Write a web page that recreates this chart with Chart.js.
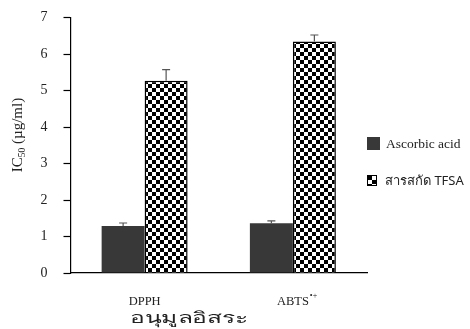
<!DOCTYPE html>
<html>
<head>
<meta charset="utf-8">
<script src="https://cdn.jsdelivr.net/npm/chart.js@4"></script>
<style>
  html, body { margin: 0; padding: 0; background: #fff; }
  #wrap { width: 470px; height: 329px; }
</style>
</head>
<body>
<div id="wrap"><canvas id="ic50Chart"></canvas></div>
<script>
// data
const radicals = ["DPPH", "ABTS"];
const seriesNames = ["Ascorbic acid", "สารสกัด TFSA"];
const ascorbicValues = [1.29, 1.36];
const ascorbicErrors = [0.08, 0.07];
const tfsaValues = [5.27, 6.34];
const tfsaErrors = [0.3, 0.18];
const yTicks = [0, 1, 2, 3, 4, 5, 6, 7];

const serif = "'Liberation Serif', 'DejaVu Serif', serif";

// checkerboard fill for the extract bars
function checker() {
  const c = document.createElement("canvas");
  c.width = 8;
  c.height = 8;
  const g = c.getContext("2d");
  g.fillStyle = "#fff";
  g.fillRect(0, 0, 8, 8);
  g.fillStyle = "#000";
  g.fillRect(0, 0, 4, 4);
  g.fillRect(4, 4, 4, 4);
  return g.createPattern(c, "repeat");
}
const ctx = document.getElementById("ic50Chart").getContext("2d");
const checkerFill = checker();

// draw text squeezed/stretched to a given width
function fitText(g, text, cx, cy, width) {
  const w = g.measureText(text).width;
  g.save();
  g.translate(cx, cy);
  g.scale(width / w, 1);
  g.textAlign = "center";
  g.fillText(text, 0, 0);
  g.restore();
}

// error bars, axis titles, legend and x labels
const extras = {
  id: "extras",
  afterDatasetsDraw(chart) {
    const g = chart.ctx;
    const y = chart.scales.y;
    const errs = [ascorbicErrors, tfsaErrors];
    const vals = [ascorbicValues, tfsaValues];
    g.save();
    g.lineWidth = 1.2;
    g.strokeStyle = "#555";
    [0, 1].forEach((d) => {
      chart.getDatasetMeta(d).data.forEach((bar, i) => {
        const top = y.getPixelForValue(vals[d][i]);
        const hi = y.getPixelForValue(vals[d][i] + errs[d][i]);
        g.beginPath();
        g.moveTo(bar.x, top);
        g.lineTo(bar.x, hi);
        g.moveTo(bar.x - 4, hi);
        g.lineTo(bar.x + 4, hi);
        g.stroke();
      });
    });
    g.restore();
  },
  afterDraw(chart) {
    const g = chart.ctx;
    const x = chart.scales.x;
    g.save();
    g.fillStyle = "#222";
    g.textBaseline = "middle";

    // category labels
    g.font = "12.5px " + serif;
    g.textAlign = "center";
    g.fillText("DPPH", x.getPixelForValue(0), 302);
    const ax = x.getPixelForValue(1);
    g.fillText("ABTS", ax, 302);
    const w = g.measureText("ABTS").width;
    g.font = "8px " + serif;
    g.textAlign = "left";
    g.fillText("•+", ax + w / 2 + 1, 296);

    // x title
    g.font = "15px 'Noto Sans', 'DejaVu Sans', sans-serif";
    fitText(g, "อนุมูลอิสระ", 189, 319, 118);

    // y title
    g.translate(18, 135);
    g.rotate(-Math.PI / 2);
    g.textAlign = "left";
    const t1 = "IC", t2 = "50", t3 = " (µg/ml)";
    g.font = "15px " + serif;
    const w1 = g.measureText(t1).width;
    const w3 = g.measureText(t3).width;
    g.font = "9.5px " + serif;
    const w2 = g.measureText(t2).width;
    let px = -(w1 + w2 + w3) / 2;
    g.font = "15px " + serif;
    g.fillText(t1, px, 0);
    g.font = "9.5px " + serif;
    g.fillText(t2, px + w1, 4);
    g.font = "15px " + serif;
    g.fillText(t3, px + w1 + w2, 0);
    g.restore();

    // legend
    g.save();
    g.fillStyle = "#383838";
    g.fillRect(367, 137, 13, 13);
    g.fillStyle = checkerFill;
    g.fillRect(367, 175, 10, 11);
    g.strokeStyle = "#000";
    g.lineWidth = 1;
    g.strokeRect(367.5, 175.5, 9, 10);
    g.fillStyle = "#222";
    g.textBaseline = "middle";
    g.textAlign = "left";
    g.font = "13.5px " + serif;
    g.fillText(seriesNames[0], 386, 144);
    g.font = "13px 'Noto Sans', 'DejaVu Sans', sans-serif";
    g.fillText(seriesNames[1], 385, 181);
    g.restore();
  },
};

new Chart(ctx, {
  type: "bar",
  data: {
    labels: radicals,
    datasets: [
      {
        label: seriesNames[0],
        data: ascorbicValues,
        backgroundColor: "#383838",
        borderWidth: 0,
      },
      {
        label: seriesNames[1],
        data: tfsaValues,
        backgroundColor: checkerFill,
        borderColor: "#000",
        borderWidth: 1.5,
      },
    ],
  },
  options: {
    responsive: true,
    maintainAspectRatio: false,
    animation: false,
    events: [],
    layout: { autoPadding: false, padding: { left: 0, right: 103, top: 17.5, bottom: 0 } },
    plugins: { legend: { display: false }, tooltip: { enabled: false } },
    datasets: { bar: { barPercentage: 1, categoryPercentage: 0.58 } },
    scales: {
      x: {
        grid: { display: false },
        border: { color: "#000", width: 1.2 },
        ticks: { display: false },
        afterFit: (s) => { s.height = 56; },
      },
      y: {
        min: 0,
        max: 7,
        afterBuildTicks: (s) => { s.ticks = yTicks.map((v) => ({ value: v })); },
        grid: { drawOnChartArea: false, tickLength: 7, color: "#000", tickWidth: 1.2 },
        border: { color: "#000", width: 1.2 },
        ticks: {
          padding: 16,
          color: "#222",
          font: { family: serif, size: 14 },
        },
        afterFit: (s) => {
          s.width = 70.5;
          s.paddingTop = 0;
          s.paddingBottom = 0;
        },
      },
    },
  },
  plugins: [extras],
});
</script>
</body>
</html>
